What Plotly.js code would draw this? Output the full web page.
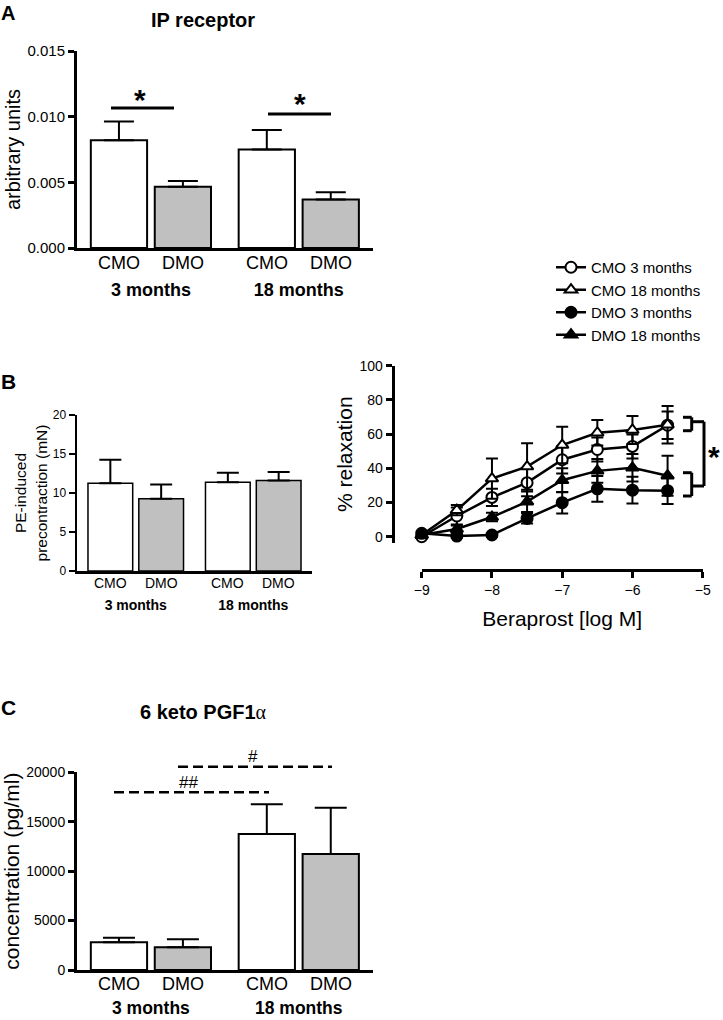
<!DOCTYPE html>
<html>
<head>
<meta charset="utf-8">
<script src="https://cdn.plot.ly/plotly-3.0.1.min.js"></script>
<style>html,body{margin:0;padding:0;background:#fff;}#chart{width:723px;height:1020px;}</style>
</head>
<body>
<div id="chart"></div>
<script>
// ---------- DATA ----------
const groups = ['3 months', '18 months'];
const groupNames = ['CMO', 'DMO'];

// Panel A: IP receptor (arbitrary units)
const ipCMO = [0.0082, 0.0075];
const ipCMOerr = [0.00144, 0.00148];
const ipDMO = [0.00467, 0.0037];
const ipDMOerr = [0.00043, 0.00054];

// Panel B left: PE-induced precontraction (mN)
const peCMO = [11.24, 11.37];
const peCMOerr = [3.03, 1.23];
const peDMO = [9.27, 11.6];
const peDMOerr = [1.83, 1.1];

// Panel B right: relaxation to beraprost
const logConc = [-9, -8.5, -8, -7.5, -7, -6.5, -6, -5.5];
const cmo3 = [0, 12.1, 23, 31.6, 45, 51, 52.8, 65.2];
const cmo3err = [1, 5, 5, 8, 8, 7, 7, 8];
const cmo18 = [1, 15.5, 34, 41, 53.6, 60.8, 62.4, 65.5];
const cmo18err = [1, 3, 11.8, 13.6, 10.7, 7.4, 8.2, 11];
const dmo3 = [2, 0.4, 1, 10.7, 19.9, 28, 27.2, 26.9];
const dmo3err = [1, 1, 1, 3, 6.3, 7.5, 7.8, 7.8];
const dmo18 = [1, 4.5, 11.5, 20.5, 33, 38.5, 40.3, 35.7];
const dmo18err = [1, 2, 2.5, 6, 7, 7, 8, 11.7];
const seriesNames = ['CMO 3 months', 'CMO 18 months', 'DMO 3 months', 'DMO 18 months'];

// Panel C: 6 keto PGF1alpha (pg/ml)
const pgCMO = [2800, 13760];
const pgCMOerr = [470, 3000];
const pgDMO = [2300, 11735];
const pgDMOerr = [800, 4685];

// ---------- HELPERS ----------
const W = 723, H = 1020;
const PX = x => x / W;
const PY = y => 1 - y / H;
const FONT = 'Liberation Sans, Arial, Helvetica, sans-serif';
const GREY = '#c0c0c0';
const BARGAP = 0.135, GROUPGAP = 0.12;

function barTrace(y, err, fill, xa, ya, cap, lw) {
  return {
    type: 'bar', x: groups, y: y, xaxis: xa, yaxis: ya, showlegend: false,
    marker: {color: fill, line: {color: '#000', width: lw}},
    error_y: {type: 'data', symmetric: false, array: err, arrayminus: err.map(() => 0),
              color: '#000', thickness: 2, width: cap},
    hoverinfo: 'skip'
  };
}
function lineTrace(y, err, name, symbol, fill) {
  return {
    type: 'scatter', mode: 'lines+markers', x: logConc, y: y, name: name,
    xaxis: 'x3', yaxis: 'y3', cliponaxis: false,
    line: {color: '#000', width: 2.5},
    marker: {symbol: symbol, size: 11, color: fill, line: {color: '#000', width: 2}},
    error_y: {type: 'data', array: err, color: '#000', thickness: 2, width: 6}
  };
}

const traces = [
  barTrace(ipCMO, ipCMOerr, '#fff', 'x', 'y', 15, 2),
  barTrace(ipDMO, ipDMOerr, GREY, 'x', 'y', 15, 2),
  barTrace(peCMO, peCMOerr, '#fff', 'x2', 'y2', 11, 1.5),
  barTrace(peDMO, peDMOerr, GREY, 'x2', 'y2', 11, 1.5),
  barTrace(pgCMO, pgCMOerr, '#fff', 'x4', 'y4', 16, 2),
  barTrace(pgDMO, pgDMOerr, GREY, 'x4', 'y4', 16, 2),
  lineTrace(cmo3, cmo3err, seriesNames[0], 'circle', '#fff'),
  lineTrace(cmo18, cmo18err, seriesNames[1], 'triangle-up', '#fff'),
  lineTrace(dmo3, dmo3err, seriesNames[2], 'circle', '#000'),
  lineTrace(dmo18, dmo18err, seriesNames[3], 'triangle-up', '#000')
];

function catAxis(x0, x1, yAnchor, size, standoff, lw) {
  return {
    domain: [PX(x0), PX(x1)], anchor: yAnchor, type: 'category',
    categoryorder: 'array', categoryarray: groups,
    tickvals: groups, ticktext: groups.map(g => '<b>' + g + '</b>'),
    showline: true, linewidth: lw, linecolor: '#000', ticks: '', showgrid: false, zeroline: false,
    tickfont: {family: FONT, size: size, color: '#000'}, ticklabelstandoff: standoff,
    range: [-0.5, 1.5], fixedrange: true
  };
}
function valAxis(y0, y1, xAnchor, range, dtick, fmt, size, lw, title, tsize, standoff) {
  return {
    domain: [PY(y1), PY(y0)], anchor: xAnchor, range: range, dtick: dtick, tick0: 0,
    tickformat: fmt, showline: true, linewidth: lw, linecolor: '#000',
    ticks: 'outside', ticklen: 6, tickwidth: lw, tickcolor: '#000',
    showgrid: false, zeroline: false,
    tickfont: {family: FONT, size: size, color: '#000'},
    title: {text: title, font: {family: FONT, size: tsize, color: '#000'}, standoff: standoff}
  };
}

const layout = {
  width: W, height: H, margin: {l: 0, r: 0, t: 0, b: 0},
  paper_bgcolor: '#fff', plot_bgcolor: 'rgba(0,0,0,0)',
  barmode: 'group', bargap: BARGAP, bargroupgap: GROUPGAP,
  font: {family: FONT, color: '#000'},
  showlegend: true,
  legend: {x: PX(551), y: PY(251), xanchor: 'left', yanchor: 'top',
           font: {family: FONT, size: 15, color: '#000'}, tracegroupgap: 0,
           bgcolor: 'rgba(0,0,0,0)'},
  xaxis: catAxis(77, 372.7, 'y', 18, 23, 3),
  yaxis: valAxis(51, 248, 'x', [0, 0.015], 0.005, '.3f', 15, 3, 'arbitrary units', 20, 2),
  xaxis2: catAxis(77, 312, 'y2', 14, 20, 2.5),
  yaxis2: valAxis(415, 571, 'x2', [0, 20], 5, '', 12, 2.5, 'PE-induced<br>precontraction (mN)', 15.5, 2),
  xaxis3: {domain: [PX(421.7), PX(702.7)], anchor: 'free', position: PY(570),
           range: [-9, -5], dtick: 1, tick0: -9, showline: true, linewidth: 3, linecolor: '#000',
           ticks: 'outside', ticklen: 6, tickwidth: 3, tickcolor: '#000', showgrid: false, zeroline: false,
           tickfont: {family: FONT, size: 14, color: '#000'},
           title: {text: 'Beraprost [log M]', font: {family: FONT, size: 21, color: '#000'}, standoff: 14}},
  yaxis3: Object.assign(valAxis(365.7, 542.7, 'free', [-3.5, 100], 20, '', 14, 3, '% relaxation', 21, 0),
                        {position: PX(392.7)}),
  xaxis4: catAxis(77, 372.7, 'y4', 17.5, 20, 3),
  yaxis4: valAxis(772.3, 970, 'x4', [0, 20000], 5000, 'd', 14, 3, 'concentration (pg/ml)', 21, 4),
  shapes: [],
  annotations: []
};

// CMO / DMO labels under each bar (positions derived from grouping gaps)
const half = (1 - BARGAP) / 4;
function barLabels(xref, ypx, size) {
  groups.forEach((g, i) => {
    groupNames.forEach((n, j) => {
      layout.annotations.push({xref: xref, yref: 'paper', x: i + (j === 0 ? -half : half), y: PY(ypx),
        text: n, showarrow: false, xanchor: 'center', yanchor: 'middle',
        font: {family: FONT, size: size, color: '#000'}});
    });
  });
}
barLabels('x', 263, 18);
barLabels('x2', 583, 14);
barLabels('x4', 984, 18);

function txt(x, y, text, size, bold, extra) {
  layout.annotations.push(Object.assign({xref: 'paper', yref: 'paper', x: PX(x), y: PY(y),
    text: bold ? '<b>' + text + '</b>' : text, showarrow: false, xanchor: 'center', yanchor: 'middle',
    font: {family: FONT, size: size, color: '#000'}}, extra || {}));
}
function seg(x0, y0, x1, y1, w, dash) {
  layout.shapes.push({type: 'line', xref: 'paper', yref: 'paper', x0: PX(x0), y0: PY(y0), x1: PX(x1), y1: PY(y1),
    line: {color: '#000', width: w, dash: dash || 'solid'}});
}

// Panel letters & titles
txt(8, 13, 'A', 20, true);
txt(8, 381, 'B', 21, true);
txt(8, 707, 'C', 21, true);
txt(203, 20, 'IP receptor', 20, true);
txt(203, 712, '6 keto PGF1<span style="font-family:Liberation Serif;font-weight:normal">α</span>', 20, true);

// Panel A significance
seg(111, 108, 174, 108, 3);
seg(268, 114, 331, 114, 3);
txt(140, 100, '*', 30, true);
txt(300, 104, '*', 30, true);

// Panel C significance (dashed)
seg(114, 792.3, 269, 792.3, 2.5, '10px,5px');
seg(178, 766.7, 332, 766.7, 2.5, '10px,5px');
txt(188, 782, '##', 17, false);
txt(253, 756, '#', 17, false);

// Panel B right brackets
seg(683, 417.3, 691.7, 417.3, 3);
seg(691.7, 417.3, 691.7, 430.7, 3);
seg(683, 430.7, 691.7, 430.7, 3);
seg(683, 472.7, 691.7, 472.7, 3);
seg(691.7, 472.7, 691.7, 496, 3);
seg(683, 496, 691.7, 496, 3);
seg(691.7, 421.7, 704, 421.7, 3);
seg(704, 421.7, 704, 486, 3);
seg(691.7, 486, 704, 486, 3);
txt(714, 457, '*', 30, true);

Plotly.newPlot('chart', traces, layout, {staticPlot: true, displayModeBar: false});
</script>
</body>
</html>
